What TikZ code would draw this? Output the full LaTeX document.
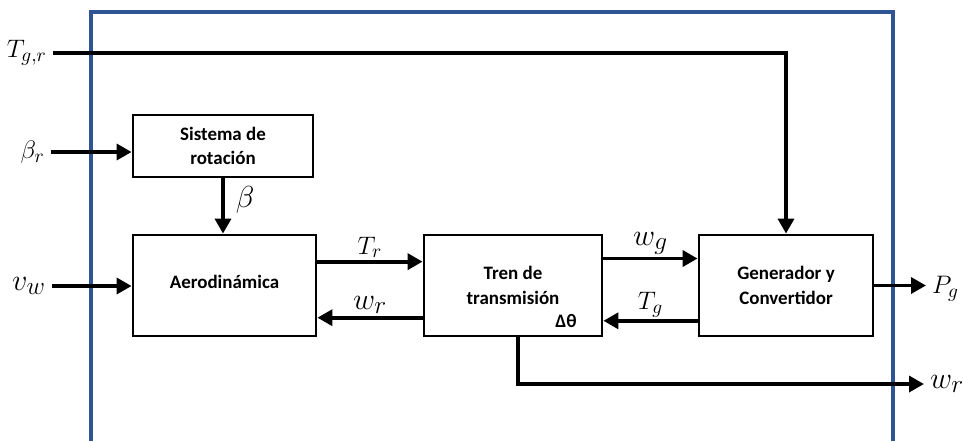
\documentclass[tikz,border=0pt]{standalone}
\usepackage{amsmath}
\usepackage{amssymb}
\usepackage{fontspec}
\setsansfont{Carlito}
\usepackage{tikz}
\usetikzlibrary{arrows.meta}
\usetikzlibrary{calc}

\definecolor{framebl}{RGB}{47,85,151}
\tikzset{
  blok/.style={draw,line width=1.6pt,minimum height=2.02cm,align=center,
    font=\sffamily\bfseries\fontsize{10.8}{14}\selectfont},
  sig/.style={line width=2.2pt,-{Triangle[length=8.5pt,width=9pt]}},
  lbl/.style={font=\fontsize{15.5}{18}\selectfont},
  biglbl/.style={font=\fontsize{19}{21}\selectfont}
}

\begin{document}
\begin{tikzpicture}[x=0.02cm,y=-0.02cm]
\useasboundingbox (0,0) rectangle (963,441);
\draw[framebl,line width=2.3pt] (91,441) -- (91,12) -- (893,12) -- (893,441);
\node[blok,minimum width=3.6cm,minimum height=1.24cm] (rot) at (223,146) {Sistema de\\rotación};
\node[blok,minimum width=3.66cm] (aero) at (224.5,285.5) {\raisebox{3.7pt}{Aerodinámica}};
\node[blok,minimum width=3.56cm] (tren) at (513,285.5) {Tren de\\transmisión};
\node[blok,minimum width=3.48cm] (gen) at (786,285.5) {Generador y\\Convertidor};
\node[font=\sffamily\bfseries\fontsize{10.8}{14}\selectfont] (dth) at (566,321) {Δθ};
% inputs
\node[lbl,anchor=east] (tgr) at (53,53) {$T_{g,r}$};
\node[lbl,anchor=east] (br) at (51,152) {$\beta_r$};
\node[biglbl,anchor=east] (vw) at (52,286) {$v_w$};
\node[biglbl] (lbeta) at (245,200) {$\beta$};
% outputs
\node[lbl,anchor=west] (pg) at (926,289) {$P_g$};
\node[biglbl,anchor=west] (wro) at (924,384) {$w_r$};
\coordinate (a1) at ($(aero.north east)!0.27!(aero.south east)$);
\coordinate (a2) at ($(aero.north east)!0.81!(aero.south east)$);
\coordinate (t1) at ($(tren.north east)!0.24!(tren.south east)$);
\coordinate (t2) at ($(tren.north east)!0.84!(tren.south east)$);
\coordinate (tb) at ($(tren.south west)!0.53!(tren.south east)$);
\draw[sig] (tgr.east) -| (gen.north);
\draw[sig] (br.east) -- (br.east -| rot.west);
\draw[sig] (vw.east) -- (vw.east -| aero.west);
\draw[sig] (rot.south) -- (rot.south |- aero.north);
\draw[sig] (a1) -- (a1 -| tren.west) node[midway,above,lbl,inner sep=1pt] {$T_r$};
\draw[sig] (a2 -| tren.west) -- (a2) node[midway,above,biglbl,inner sep=1pt] {$w_r$};
\draw[sig] (t1) -- (t1 -| gen.west) node[midway,above,biglbl,inner sep=1pt] {$w_g$};
\draw[sig] (t2 -| gen.west) -- (t2) node[midway,above,lbl,inner sep=1pt] {$T_g$};
\draw[sig] (gen.east) -- (gen.east -| pg.west);
\draw[sig] (tb) |- (wro.west);
\end{tikzpicture}
\end{document}
